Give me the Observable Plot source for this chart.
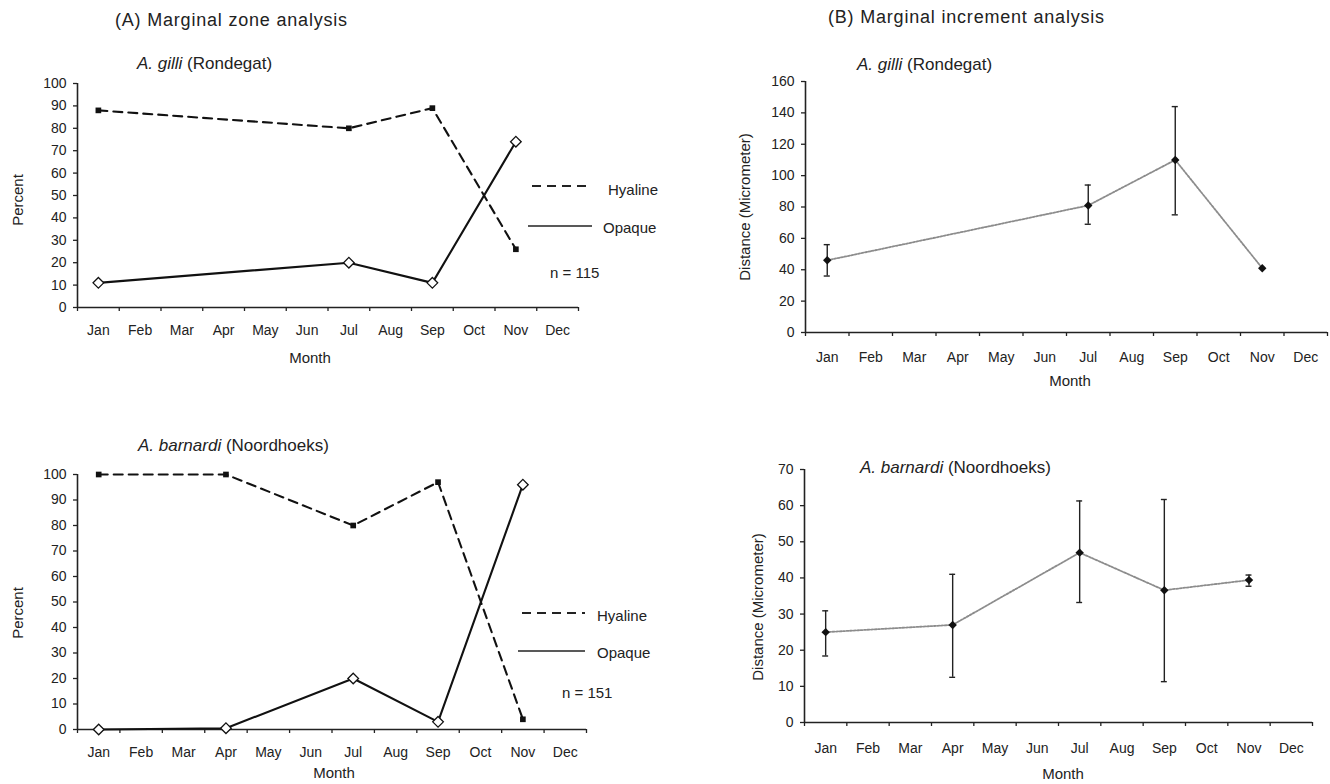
<!DOCTYPE html>
<html><head><meta charset="utf-8">
<script src="https://cdn.jsdelivr.net/npm/d3@7"></script>
<script src="https://cdn.jsdelivr.net/npm/@observablehq/plot@0.6"></script>
<style>
body{margin:0;background:#fff;}
#fig{position:relative;width:1330px;height:784px;overflow:hidden;background:#fff;font-family:"Liberation Sans",Arial,sans-serif;color:#222;}
.t{position:absolute;white-space:nowrap;line-height:1;}
.p{position:absolute;}
</style></head><body><div id="fig"></div>
<script>
const FONT = '"Liberation Sans", Arial, sans-serif';
const months = ["Jan","Feb","Mar","Apr","May","Jun","Jul","Aug","Sep","Oct","Nov","Dec"];

// (A) Marginal zone analysis
const gilliZoneMonths = ["Jan","Jul","Sep","Nov"];
const gilliHyaline = [88, 80, 89, 26];
const gilliOpaque = [11, 20, 11, 74];
const barnardiZoneMonths = ["Jan","Apr","Jul","Sep","Nov"];
const barnardiHyaline = [100, 100, 80, 97, 4];
const barnardiOpaque = [0, 0.5, 20, 3, 96];

// (B) Marginal increment analysis
const gilliIncMonths = ["Jan","Jul","Sep","Nov"];
const gilliIncMean = [46, 81, 110, 41];
const gilliIncLow = [36, 69, 75, null];
const gilliIncHigh = [56, 94, 144, null];
const barnardiIncMonths = ["Jan","Apr","Jul","Sep","Nov"];
const barnardiIncMean = [25, 27, 47, 36.6, 39.4];
const barnardiIncLow = [18.4, 12.5, 33.2, 11.3, 37.7];
const barnardiIncHigh = [30.9, 41, 61.3, 61.7, 40.8];

const percentTicks = [0,10,20,30,40,50,60,70,80,90,100];
const gilliIncTicks = [0,20,40,60,80,100,120,140,160];
const barnardiIncTicks = [0,10,20,30,40,50,60,70];

const mi = name => months.indexOf(name) + 1;
const fig = document.getElementById("fig");

function makePlot({width, height, ml, mr, mt, mb, yMax, yTicks, xPad, marks}) {
  return Plot.plot({
    width, height, marginLeft: ml, marginRight: mr, marginTop: mt, marginBottom: mb,
    style: {fontFamily: FONT, fontSize: "14px", color: "#222", background: "transparent", overflow: "visible", maxWidth: "none"},
    x: {type: "linear", domain: [0.5, 12.5]},
    y: {domain: [0, yMax]},
    marks: [
      Plot.axisY({ticks: yTicks, tickSize: 4, tickPadding: 7, label: null, tickFormat: d => d, fontSize: 14, strokeWidth: 1.3}),
      Plot.axisX({ticks: d3.range(0.5, 12.6, 1), tickSize: 4, tickFormat: () => "", label: null, strokeWidth: 1.3}),
      Plot.axisX({ticks: d3.range(1, 13), tickSize: 0, tickPadding: xPad, tickFormat: i => months[i - 1], label: null, fontSize: 14}),
      Plot.ruleX([0.5], {stroke: "#222", strokeWidth: 1.6}),
      Plot.ruleY([0], {stroke: "#222", strokeWidth: 1.6}),
      ...marks
    ]
  });
}

function place(el, left, top) {
  el.style.maxWidth = "none";
  el.classList.add("p");
  el.style.left = left + "px";
  el.style.top = top + "px";
  fig.appendChild(el);
}

function text(html, x, cy, size, opts = {}) {
  const d = document.createElement("div");
  d.className = "t";
  d.innerHTML = html;
  d.style.fontSize = size + "px";
  if (opts.spacing) d.style.letterSpacing = opts.spacing + "px";
  d.style.left = x + "px"; d.style.top = cy + "px";
  if (opts.rotate) d.style.transform = "translate(-50%,-50%) rotate(-90deg)";
  else if (opts.center) d.style.transform = "translate(-50%,-50%)";
  else d.style.transform = "translateY(-50%)";
  fig.appendChild(d);
}

function legendLine(x1, x2, y, dash) {
  const ns = "http://www.w3.org/2000/svg";
  const s = document.createElementNS(ns, "svg");
  s.setAttribute("width", x2 - x1 + 2); s.setAttribute("height", 6);
  s.style.position = "absolute"; s.style.left = (x1 - 1) + "px"; s.style.top = (y - 3) + "px";
  const l = document.createElementNS(ns, "line");
  l.setAttribute("x1", 1); l.setAttribute("x2", x2 - x1 + 1); l.setAttribute("y1", 3); l.setAttribute("y2", 3);
  l.setAttribute("stroke", "#222"); l.setAttribute("stroke-width", dash ? 2 : 1.4);
  if (dash) l.setAttribute("stroke-dasharray", dash);
  s.appendChild(l);
  fig.appendChild(s);
}

function zoneMarks(ms, hy, op) {
  const H = ms.map((m, i) => ({m: mi(m), v: hy[i]}));
  const O = ms.map((m, i) => ({m: mi(m), v: op[i]}));
  return [
    Plot.line(H, {x: "m", y: "v", stroke: "#111", strokeWidth: 2.1, strokeDasharray: "9,6"}),
    Plot.line(O, {x: "m", y: "v", stroke: "#111", strokeWidth: 2.1}),
    Plot.dot(H, {x: "m", y: "v", symbol: "square", r: 3.2, fill: "#111"}),
    Plot.dot(O, {x: "m", y: "v", symbol: "diamond2", r: 4.8, fill: "white", stroke: "#111", strokeWidth: 1.3})
  ];
}

function incMarks(ms, mean, lo, hi) {
  const D = ms.map((m, i) => ({m: mi(m), v: mean[i], lo: lo[i], hi: hi[i]}));
  const E = D.filter(d => d.lo != null && d.hi != null);
  return [
    Plot.line(D, {x: "m", y: "v", stroke: "#8c8c8c", strokeWidth: 1.8, strokeDasharray: "2,1.5"}),
    Plot.ruleX(E, {x: "m", y1: "lo", y2: "hi", stroke: "#222", strokeWidth: 1.4}),
    Plot.ruleY(E, {y: "hi", x1: d => d.m - 0.07, x2: d => d.m + 0.07, stroke: "#222", strokeWidth: 1.4}),
    Plot.ruleY(E, {y: "lo", x1: d => d.m - 0.07, x2: d => d.m + 0.07, stroke: "#222", strokeWidth: 1.4}),
    Plot.dot(D, {x: "m", y: "v", symbol: "diamond2", r: 3.8, fill: "#111"})
  ];
}

// Panel A top
place(makePlot({width: 620, height: 300, ml: 77, mr: 42, mt: 13, mb: 63, yMax: 100, yTicks: percentTicks, xPad: 18,
  marks: zoneMarks(gilliZoneMonths, gilliHyaline, gilliOpaque)}), 0, 70);
// Panel A bottom
place(makePlot({width: 620, height: 340, ml: 77, mr: 34, mt: 34, mb: 51, yMax: 100, yTicks: percentTicks, xPad: 18,
  marks: zoneMarks(barnardiZoneMonths, barnardiHyaline, barnardiOpaque)}), 0, 440);
// Panel B top
place(makePlot({width: 660, height: 340, ml: 125, mr: 13, mt: 21, mb: 68, yMax: 160, yTicks: gilliIncTicks, xPad: 20,
  marks: incMarks(gilliIncMonths, gilliIncMean, gilliIncLow, gilliIncHigh)}), 680, 60);
// Panel B bottom
place(makePlot({width: 650, height: 340, ml: 124, mr: 18, mt: 29, mb: 58, yMax: 70, yTicks: barnardiIncTicks, xPad: 21,
  marks: incMarks(barnardiIncMonths, barnardiIncMean, barnardiIncLow, barnardiIncHigh)}), 680, 440);

// Titles
text("(A) Marginal zone analysis", 115, 20, 18, {spacing: 0.8});
text("(B) Marginal increment analysis", 828, 17, 18, {spacing: 0.8});
text("<i>A. gilli</i> (Rondegat)", 137, 63, 17);
text("<i>A. barnardi</i> (Noordhoeks)", 138, 445, 17);
text("<i>A. gilli</i> (Rondegat)", 857, 64, 17);
text("<i>A. barnardi</i> (Noordhoeks)", 860, 467, 17);

// Axis labels
text("Percent", 17, 200, 15, {rotate: true});
text("Percent", 17, 613, 15, {rotate: true});
text("Distance (Micrometer)", 744, 207, 15, {rotate: true});
text("Distance (Micrometer)", 757, 607, 15, {rotate: true});
text("Month", 310, 357, 15, {center: true});
text("Month", 334, 772, 15, {center: true});
text("Month", 1070, 380, 15, {center: true});
text("Month", 1063, 773, 15, {center: true});

// Legends
legendLine(532, 592, 186, "9,6");
text("Hyaline", 608, 189, 15);
legendLine(528, 592, 226, null);
text("Opaque", 603, 227, 15);
text("n = 115", 550, 272, 15);
legendLine(522, 585, 613, "9,6");
text("Hyaline", 597, 615, 15);
legendLine(518, 585, 651, null);
text("Opaque", 597, 652, 15);
text("n = 151", 562, 692, 15);
</script></body></html>
